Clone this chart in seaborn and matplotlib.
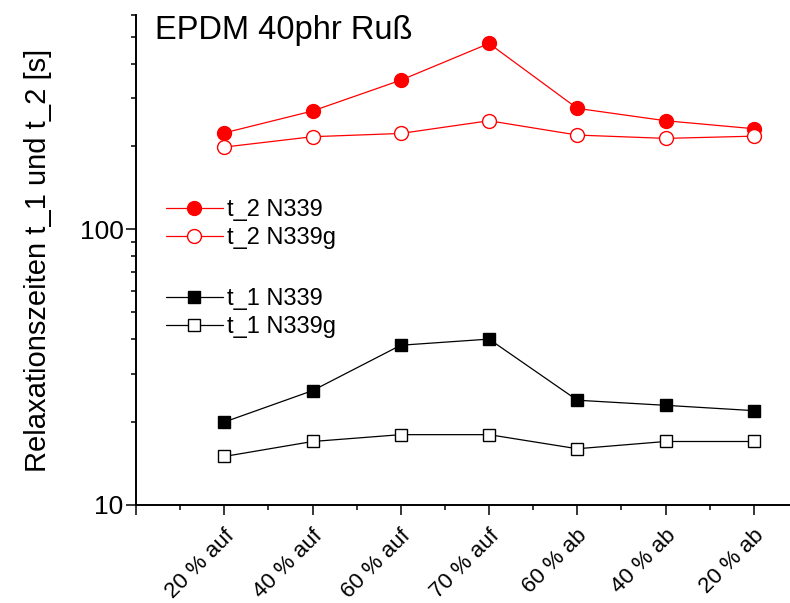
import numpy as np
import pandas as pd
import matplotlib
matplotlib.use("Agg")
import matplotlib.pyplot as plt
import matplotlib.ticker as mticker
import matplotlib.transforms as mtransforms
from matplotlib.lines import Line2D
import seaborn as sns

categories = ["20 % auf", "40 % auf", "60 % auf", "70 % auf", "60 % ab", "40 % ab", "20 % ab"]
t2_N339 = [224, 269, 348, 473, 275, 248, 232]
t2_N339g = [199, 217, 223, 248, 220, 214, 218]
t1_N339 = [20, 26, 38, 40, 24, 23, 22]
t1_N339g = [15, 17, 18, 18, 16, 17, 17]
title_text = "EPDM 40phr Ruß"
ylabel_text = "Relaxationszeiten t_1 und t_2 [s]"

sns.set_style("ticks")
plt.rcParams["font.family"] = ["Liberation Sans", "DejaVu Sans"]
plt.rcParams["text.color"] = "black"
plt.rcParams["axes.labelcolor"] = "black"
plt.rcParams["xtick.color"] = "black"
plt.rcParams["ytick.color"] = "black"

fig = plt.figure(figsize=(7.9, 6.03), dpi=100)
ax = fig.add_axes([136 / 790, 98 / 603, 654 / 790, 490 / 603])

x = np.arange(len(categories))
series = [
    ("t_2 N339", t2_N339, "o", "red", "red", 10),
    ("t_2 N339g", t2_N339g, "o", "red", "white", 10),
    ("t_1 N339", t1_N339, "s", "black", "black", 8.5),
    ("t_1 N339g", t1_N339g, "s", "black", "white", 8.5),
]
handles = {}
for name, vals, mk, col, face, ms in series:
    df = pd.DataFrame({"x": x, "y": vals})
    sns.lineplot(data=df, x="x", y="y", ax=ax, color=col, linewidth=0.9,
                 marker=mk, markersize=ms, markerfacecolor=face,
                 markeredgecolor=col, markeredgewidth=1.0, label=name, legend=False)
    handles[name] = Line2D([], [], color=col, linewidth=0.9, marker=mk, markersize=ms,
                           markerfacecolor=face, markeredgecolor=col, markeredgewidth=1.0)

ax.set_yscale("log")
ax.set_ylim(10, 600)
ax.set_xlim(-1, 6.41)

ax.yaxis.set_major_locator(mticker.FixedLocator([10, 100]))
ax.yaxis.set_major_formatter(mticker.FixedFormatter(["10", "100"]))
ax.yaxis.set_minor_locator(mticker.LogLocator(base=10, subs=np.arange(2, 10)))
ax.yaxis.set_minor_formatter(mticker.NullFormatter())

ax.xaxis.set_major_locator(mticker.FixedLocator(np.arange(-1, 7)))
ax.set_xticklabels([""] + categories)
ax.xaxis.set_minor_locator(mticker.FixedLocator(np.arange(-0.5, 6.5, 1.0)))

for s in ["top", "right"]:
    ax.spines[s].set_visible(False)
for s in ["left", "bottom"]:
    ax.spines[s].set_linewidth(1.4)
    ax.spines[s].set_color("black")

ax.tick_params(axis="both", which="major", direction="out", length=7, width=1.1, color="black")
ax.tick_params(axis="both", which="minor", direction="out", length=3.8, width=1.1, color="black")
ax.tick_params(axis="y", which="major", labelsize=19, pad=2, labelcolor="black")
ax.tick_params(axis="x", which="major", labelsize=16, pad=13, labelcolor="black")

offset = mtransforms.ScaledTranslation(5 / 72, 0, fig.dpi_scale_trans)
for lab in ax.get_xticklabels():
    lab.set_rotation(45)
    lab.set_ha("right")
    lab.set_va("center")
    lab.set_rotation_mode("anchor")
    lab.set_transform(lab.get_transform() + offset)

ax.set_xlabel("")
ax.set_ylabel(ylabel_text, fontsize=21, labelpad=20, color="black")

ax.text((155 - 136) / 654, (505 - 39) / 490, title_text, transform=ax.transAxes,
        fontsize=23.5, ha="left", va="baseline", color="black")

leg_kw = dict(loc="upper left", frameon=False, fontsize=17, handlelength=2.4,
              handletextpad=0.2, labelspacing=0.25, borderpad=0, borderaxespad=0)
leg1 = ax.legend([handles["t_2 N339"], handles["t_2 N339g"]], ["t_2 N339", "t_2 N339g"],
                 bbox_to_anchor=((166 - 136) / 654, (505 - 199) / 490), **leg_kw)
ax.add_artist(leg1)
ax.legend([handles["t_1 N339"], handles["t_1 N339g"]], ["t_1 N339", "t_1 N339g"],
          bbox_to_anchor=((166 - 136) / 654, (505 - 288) / 490), **leg_kw)

fig.savefig("out.png", dpi=100)
